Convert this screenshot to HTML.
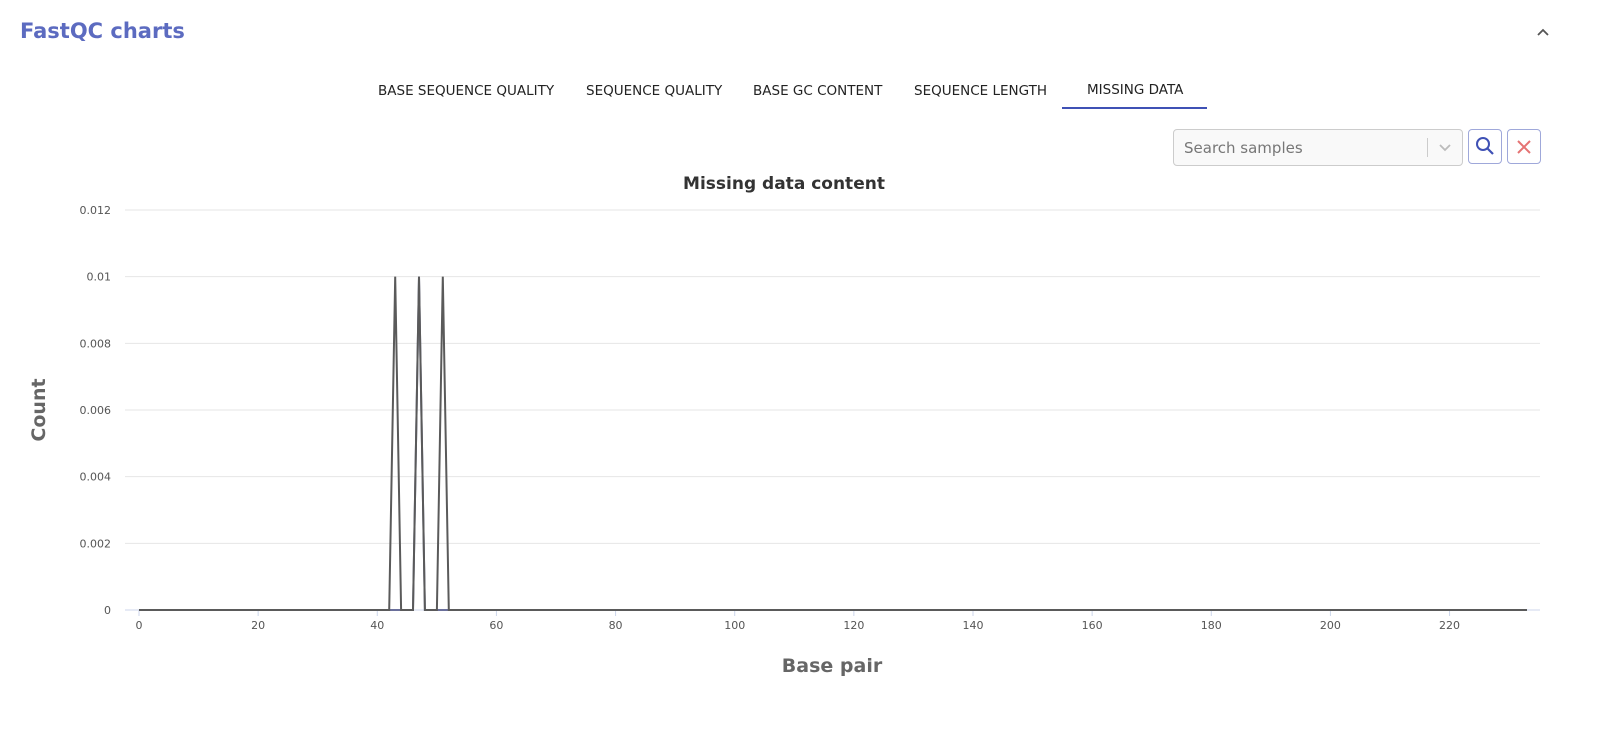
<!DOCTYPE html>
<html><head><meta charset="utf-8"><style>
body{margin:0;width:1621px;height:742px;background:#fff;font-family:"DejaVu Sans","Liberation Sans",sans-serif;position:relative;overflow:hidden}
.abs{position:absolute}
.tab{position:absolute;top:83px;font-size:13.5px;color:#222;white-space:nowrap}
</style></head><body>
<div class="abs" style="left:20px;top:19px;font-size:21px;font-weight:bold;color:#5c6bc0">FastQC charts</div>
<svg class="abs" style="left:1535px;top:26px" width="16" height="12"><path d="M3 9L8 4L13 9" fill="none" stroke="#555" stroke-width="1.8"/></svg>
<div class="tab" style="left:378px">BASE SEQUENCE QUALITY</div>
<div class="tab" style="left:586px">SEQUENCE QUALITY</div>
<div class="tab" style="left:753px">BASE GC CONTENT</div>
<div class="tab" style="left:914px">SEQUENCE LENGTH</div>
<div class="tab" style="left:1087px;top:82px">MISSING DATA</div>
<div class="abs" style="left:1062px;top:107px;width:145px;height:2px;background:#3f51b5"></div>
<div class="abs" style="left:1173px;top:129px;width:288px;height:35px;border:1px solid #ccc;border-radius:4px;background:#f9f9f9">
<span style="position:absolute;left:10px;top:9px;font-size:15px;color:#777">Search samples</span>
<span style="position:absolute;left:253px;top:8px;width:1px;height:19px;background:#ccc"></span>
<svg style="position:absolute;left:264px;top:12px" width="14" height="10"><path d="M2 3L7 8L12 3" fill="none" stroke="#bbb" stroke-width="1.8"/></svg>
</div>
<div class="abs" style="left:1468px;top:129px;width:32px;height:33px;border:1px solid #9fa8da;border-radius:4px">
<svg width="32" height="33"><circle cx="14" cy="14" r="6" fill="none" stroke="#3f51b5" stroke-width="2"/><line x1="18.5" y1="18.5" x2="24" y2="24" stroke="#3f51b5" stroke-width="2.2"/></svg></div>
<div class="abs" style="left:1507px;top:129px;width:32px;height:33px;border:1px solid #9fa8da;border-radius:4px">
<svg width="32" height="33"><path d="M10 11L22 23M22 11L10 23" stroke="#e57373" stroke-width="2"/></svg></div>
<svg class="abs" style="left:0;top:0" width="1621" height="742" id="chart">
<text x="784" y="189" text-anchor="middle" font-size="17" font-weight="bold" fill="#333">Missing data content</text>
<text x="832" y="672" text-anchor="middle" font-size="19" font-weight="bold" fill="#666">Base pair</text>
<text transform="translate(45,410) rotate(-90)" text-anchor="middle" font-size="19" font-weight="bold" fill="#666">Count</text>
<g id="grid"></g><g id="series"></g>
</svg>
<script>
const yTicks=[0,0.002,0.004,0.006,0.008,0.01,0.012];
const yTickLabels=["0","0.002","0.004","0.006","0.008","0.01","0.012"];
const xTicks=[0,20,40,60,80,100,120,140,160,180,200,220];
const spikePositions=[43,47,51];
const spikeValues=[0.01,0.01,0.01];
const secondSpikePositions=[47];
const secondSpikeValues=[0.01];
const maxBase=233;
const NS="http://www.w3.org/2000/svg";
const xs=v=>139+v*(1527-139)/233;
const ys=v=>610-v*(400/0.012);
const grid=document.getElementById('grid'),ser=document.getElementById('series');
function mk(t,a,p){const e=document.createElementNS(NS,t);for(const k in a)e.setAttribute(k,a[k]);p.appendChild(e);return e;}
yTicks.forEach((v,i)=>{
 const l=mk('line',{x1:125,x2:1540,y1:ys(v),y2:ys(v),stroke:i==0?'#ccd6eb':'#e6e6e6','stroke-width':1},grid);
 
 
 const t=mk('text',{x:111,y:ys(v)+4,'text-anchor':'end','font-size':11,fill:'#555'},grid);t.textContent=yTickLabels[i];
 
 
});
xTicks.forEach(v=>{
 const l=mk('line',{x1:xs(v),x2:xs(v),y1:610,y2:616,stroke:'#ccd6eb'},grid);
 
 
 const t=mk('text',{x:xs(v),y:629,'text-anchor':'middle','font-size':11,fill:'#555'},grid);t.textContent=v;
 
 
});
function series(pos,vals,name,color){
 const pts=[];for(let i=0;i<=maxBase;i++){const k=pos.indexOf(i);pts.push([i,k>=0?vals[k]:0]);}
 const p=mk('path',{d:'M'+pts.map(q=>xs(q[0]).toFixed(1)+','+ys(q[1]).toFixed(1)).join('L'),fill:'none',stroke:color,'stroke-width':2},ser);
 
 
}
series(secondSpikePositions,secondSpikeValues,'missing-data-line-2','#6a6f9a');
series(spikePositions,spikeValues,'missing-data-line','#5a5a5a');
</script>
</body></html>
